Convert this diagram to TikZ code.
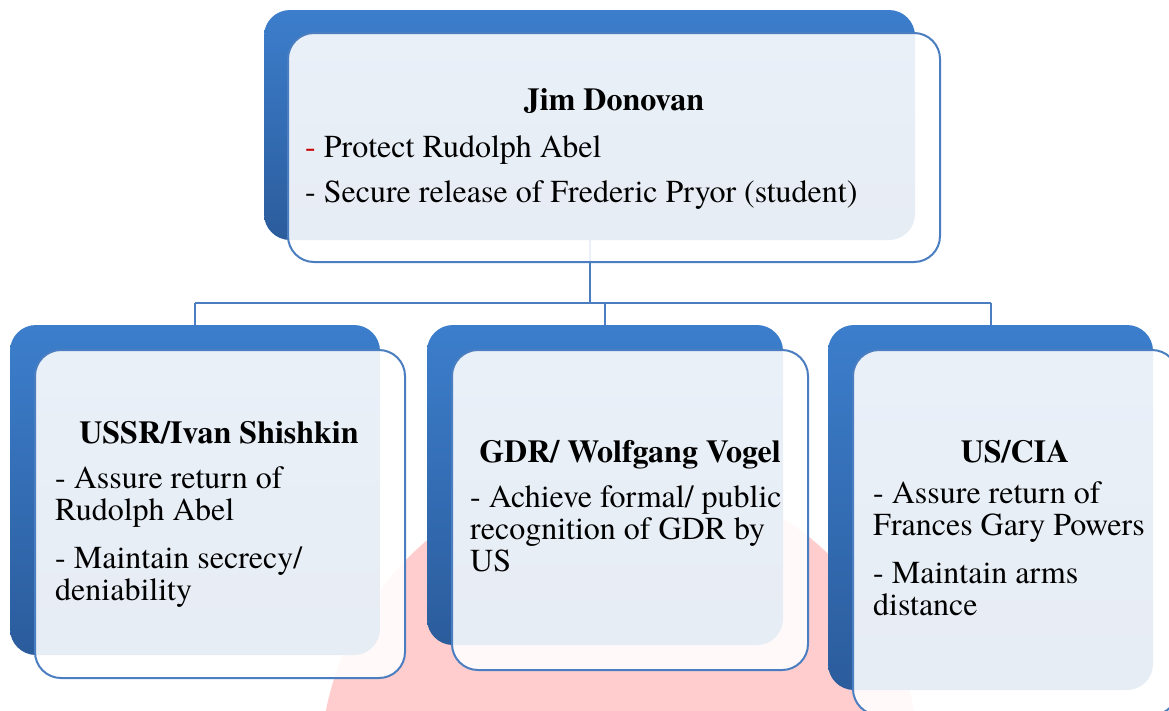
\documentclass[tikz,border=0pt]{standalone}
\usepackage{fontspec}
\setmainfont{texgyretermes}[Extension=.otf, UprightFont=*-regular, BoldFont=*-bold, ItalicFont=*-italic, BoldItalicFont=*-bolditalic]
\definecolor{bluetop}{RGB}{60,126,204}
\definecolor{bluebot}{RGB}{43,92,156}
\definecolor{edgeblue}{RGB}{74,126,192}
\definecolor{pinkbg}{RGB}{255,205,205}
\definecolor{dashred}{RGB}{200,0,0}
\tikzset{
  backbox/.style={rounded corners=26pt, top color=bluetop, bottom color=bluebot, draw=none, inner sep=0pt, outer sep=0pt},
  frontbox/.style={rounded corners=26pt, fill=white, fill opacity=0.89, draw=edgeblue, draw opacity=1, line width=2pt, inner sep=0pt, outer sep=0pt},
  conn/.style={draw=edgeblue, line width=2pt},
  ttl/.style={anchor=base, inner sep=0pt, font=\fontsize{32}{32}\selectfont\bfseries},
  txt/.style={anchor=base west, inner sep=0pt, font=\fontsize{32}{32}\selectfont},
}
\begin{document}
\begin{tikzpicture}[x=1pt,y=-1pt]
\useasboundingbox (0,0) rectangle (1169,710);
\clip (0,0) rectangle (1169,710);
\fill[white] (0,0) rectangle (1169,710);
% watermark
\fill[pinkbg] (620,770) circle (300);
% back boxes
\node[backbox, minimum width=651pt, minimum height=230pt] (tb) at (589.5,125) {};
\node[backbox, minimum width=370pt, minimum height=330pt] (b1) at (195,490) {};
\node[backbox, minimum width=356pt, minimum height=320pt] (b2) at (605,485) {};
\node[backbox, minimum width=325pt, minimum height=365pt] (b3) at (990.5,507.5) {};
% connectors
\coordinate (bus) at (0,303);
\draw[conn] (tb.south) -- (tb.south |- bus);
\draw[conn] (b1.north |- bus) -- (b3.north |- bus);
\draw[conn] (b1.north |- bus) -- (b1.north);
\draw[conn] (b2.north |- bus) -- (b2.north);
\draw[conn] (b3.north |- bus) -- (b3.north);
% front boxes
\node[frontbox, minimum width=652pt, minimum height=229pt] (tf) at (614,147.5) {};
\node[frontbox, minimum width=370pt, minimum height=328pt] (f1) at (220,514) {};
\node[frontbox, minimum width=356pt, minimum height=320pt] (f2) at (630,510) {};
\node[frontbox, minimum width=325pt, minimum height=365pt] (f3) at (1015.5,532.5) {};
% top text
\node[ttl] (t0) at (614,110) {Jim Donovan};
\node[txt] (t1) at (305,157) {{\color{dashred}-} Protect Rudolph Abel};
\node[txt] (t2) at (305,202) {- Secure release of Frederic Pryor (student)};
% box 1
\node[ttl] (u0) at (219,443) {USSR/Ivan Shishkin};
\node[txt] (u1) at (55,488) {- Assure return of};
\node[txt] (u2) at (55,520) {Rudolph Abel};
\node[txt] (u3) at (55,568) {- Maintain secrecy/};
\node[txt] (u4) at (55,600) {deniability};
% box 2
\node[ttl] (g0) at (630,462) {GDR/ Wolfgang Vogel};
\node[txt] (g1) at (470,507) {- Achieve formal/ public};
\node[txt] (g2) at (470,539) {recognition of GDR by};
\node[txt] (g3) at (470,571) {US};
% box 3
\node[ttl] (c0) at (1015,462) {US/CIA};
\node[txt] (c1) at (873,503) {- Assure return of};
\node[txt] (c2) at (873,535) {Frances Gary Powers};
\node[txt] (c3) at (873,583) {- Maintain arms};
\node[txt] (c4) at (873,615) {distance};
\end{tikzpicture}
\end{document}
